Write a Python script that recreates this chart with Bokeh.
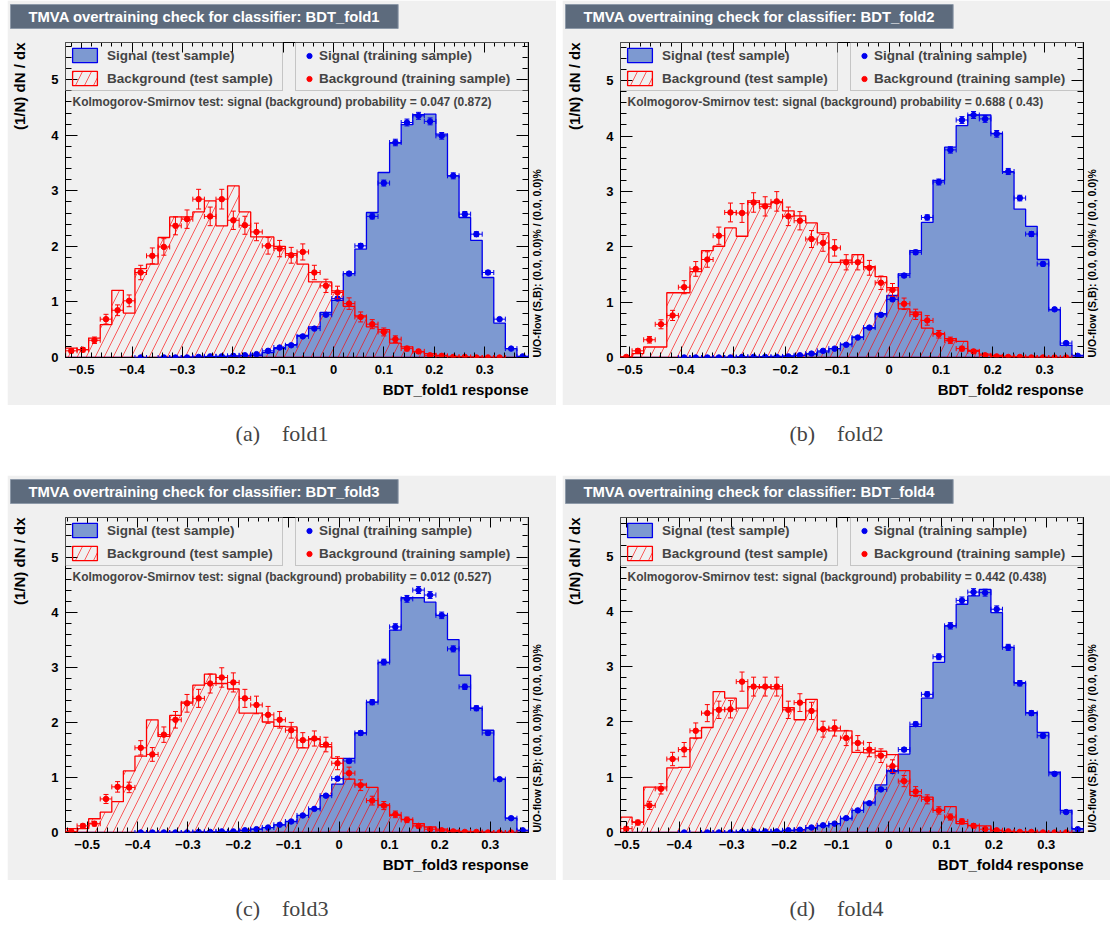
import numpy as np
from bokeh.core.properties import value
from bokeh.embed import file_html
from bokeh.layouts import column, row
from bokeh.models import (ColumnDataSource, CustomJSTickFormatter, FixedTicker, Label, Legend,
                          LegendItem, LinearAxis, Range1d, SingleIntervalTicker, Spacer, TeeHead,
                          Title, Whisker)
from bokeh.plotting import figure
from bokeh.resources import INLINE

NAN = float("nan")

# ---------------------------------------------------------------- data
folds = ["fold1", "fold2", "fold3", "fold4"]
captions = ["(a)\u2003fold1", "(b)\u2003fold2", "(c)\u2003fold3", "(d)\u2003fold4"]

# classifier response range of each fold (40 equal bins over it)
x_low = [-0.532, -0.518, -0.543, -0.512]
x_high = [0.387, 0.375, 0.376, 0.371]
y_top = [5.67, 5.69, 5.73, 5.70]

ks_signal = ["0.047", "0.688", "0.012", "0.442"]
ks_background = ["0.872", " 0.43", "0.527", "0.438"]

sig_test_1 = [0, 0, 0, 0, 0, 0, 0, 0.003, 0.005, 0.008, 0.01, 0.012, 0.015, 0.02, 0.025, 0.03,
              0.04, 0.09, 0.16, 0.23, 0.40, 0.55, 0.81, 1.03, 1.51, 1.95, 2.61, 3.33, 3.86, 4.19,
              4.37, 4.38, 4.02, 3.27, 2.52, 2.11, 1.44, 0.62, 0.16, 0.02]
sig_train_1 = [NAN, NAN, NAN, NAN, NAN, NAN, 0, NAN, 0, 0, 0, 0.01, 0.02, 0.02, 0.03, 0.04,
               0.06, 0.12, 0.18, 0.22, 0.38, 0.52, 0.77, 1.06, 1.51, 2.01, 2.54, 3.14, 3.87, 4.23,
               4.35, 4.25, 3.99, 3.27, 2.58, 2.22, 1.53, 0.69, 0.16, 0.02]
bkg_test_1 = [0.17, 0.14, 0.35, 0.59, 1.21, 0.80, 1.60, 1.68, 2.16, 2.53, 2.53, 2.62, 2.82, 2.37,
              3.09, 2.62, 2.17, 2.17, 2.00, 1.87, 1.68, 1.36, 1.36, 1.20, 0.92, 0.75, 0.55, 0.50,
              0.26, 0.19, 0.10, 0.07, 0.04, 0.02, 0.01, 0.01, 0.005, 0, 0, 0]
bkg_train_1 = [0.12, 0.14, 0.31, 0.69, 0.85, 1.02, 1.53, 1.83, 1.99, 2.37, 2.49, 2.85, 2.54, 2.85,
               2.47, 2.38, 2.26, 2.01, 1.96, 1.84, 1.90, 1.53, 1.29, 1.17, 0.97, 0.73, 0.60, 0.46,
               0.33, 0.16, 0.11, 0.04, 0.03, 0.01, 0.01, 0, 0, 0, NAN, NAN]

sig_test_2 = [0, 0, 0, 0, 0, 0, 0.003, 0.005, 0.005, 0.008, 0.01, 0.012, 0.015, 0.02, 0.03, 0.04,
              0.06, 0.10, 0.16, 0.24, 0.37, 0.53, 0.79, 1.12, 1.51, 1.93, 2.44, 3.20, 3.80, 4.19,
              4.38, 4.38, 4.05, 3.35, 2.68, 2.37, 1.77, 0.86, 0.22, 0.04]
sig_train_2 = [NAN, NAN, NAN, NAN, NAN, 0, 0, 0, 0, 0, 0.01, 0.01, 0.01, 0.01, 0.02, 0.04,
               0.07, 0.12, 0.16, 0.23, 0.36, 0.54, 0.77, 1.05, 1.48, 1.90, 2.53, 3.17, 3.75, 4.29,
               4.38, 4.31, 4.04, 3.36, 2.88, 2.23, 1.69, 0.87, 0.26, 0.03]
bkg_test_2 = [0.01, 0.07, 0.19, 0.19, 1.17, 1.17, 1.55, 1.93, 2.01, 2.34, 2.19, 2.83, 2.77, 2.80,
              2.65, 2.56, 2.43, 2.25, 1.72, 1.76, 1.86, 1.64, 1.46, 1.26, 0.88, 0.82, 0.53, 0.43,
              0.34, 0.29, 0.13, 0.06, 0.04, 0.02, 0.01, 0.01, 0.005, 0, 0, 0]
bkg_train_2 = [0.01, 0.12, 0.32, 0.60, 0.76, 1.27, 1.60, 1.77, 2.20, 2.62, 2.61, 2.80, 2.73, 2.82,
               2.55, 2.47, 2.14, 2.07, 1.98, 1.72, 1.72, 1.62, 1.35, 1.22, 0.97, 0.78, 0.67, 0.42,
               0.31, 0.16, 0.11, 0.04, 0.02, 0.01, 0.01, 0, 0, 0, 0, NAN]

sig_test_3 = [0, 0, 0, 0, 0, 0, 0, 0.003, 0.005, 0.005, 0.008, 0.01, 0.012, 0.015, 0.02, 0.04,
              0.06, 0.09, 0.14, 0.20, 0.31, 0.43, 0.67, 0.88, 1.35, 1.81, 2.37, 3.09, 3.68, 4.27,
              4.27, 4.19, 3.95, 3.51, 2.86, 2.26, 1.86, 0.97, 0.26, 0.04]
sig_train_3 = [NAN, NAN, NAN, NAN, NAN, NAN, 0, 0, 0, 0, 0, 0.01, 0.01, 0.02, 0.02, 0.04,
               0.06, 0.09, 0.14, 0.20, 0.31, 0.43, 0.67, 0.98, 1.30, 1.81, 2.37, 3.10, 3.74, 4.25,
               4.41, 4.32, 3.95, 3.34, 2.65, 2.26, 1.81, 0.97, 0.26, 0.04]
bkg_test_3 = [0.07, 0.07, 0.25, 0.37, 0.56, 1.12, 1.39, 2.05, 1.75, 2.13, 2.37, 2.68, 2.88, 2.71,
              2.61, 2.17, 2.17, 2.01, 1.93, 1.92, 1.54, 1.69, 1.56, 1.35, 0.97, 0.88, 0.82, 0.50,
              0.31, 0.24, 0.16, 0.10, 0.06, 0.04, 0.02, 0.01, 0.01, 0, 0, 0]
bkg_train_3 = [0.02, 0.12, 0.16, 0.61, 0.83, 0.82, 1.54, 1.42, 1.78, 2.05, 2.35, 2.44, 2.71, 2.82,
               2.73, 2.44, 2.32, 2.14, 2.05, 1.86, 1.68, 1.71, 1.60, 1.26, 1.08, 0.86, 0.58, 0.49,
               0.33, 0.23, 0.12, 0.06, 0.04, 0.02, 0.01, 0.01, 0, 0, 0, NAN]

sig_test_4 = [0, 0, 0, 0, 0, 0, 0, 0.003, 0.005, 0.008, 0.01, 0.012, 0.015, 0.02, 0.04, 0.05,
              0.08, 0.12, 0.16, 0.25, 0.40, 0.55, 0.86, 1.12, 1.42, 1.92, 2.43, 3.08, 3.74, 4.13,
              4.28, 4.40, 3.98, 3.35, 2.71, 2.17, 1.81, 1.09, 0.40, 0.07]
sig_train_4 = [NAN, NAN, NAN, NAN, NAN, 0, NAN, 0, 0, 0, 0.01, 0.02, 0.02, 0.02, 0.04, 0.05,
               0.09, 0.13, 0.16, 0.26, 0.40, 0.53, 0.78, 1.11, 1.50, 1.96, 2.50, 3.18, 3.74, 4.20,
               4.35, 4.34, 4.04, 3.35, 2.70, 2.16, 1.75, 1.06, 0.37, 0.06]
bkg_test_4 = [0.28, 0.19, 0.82, 0.82, 1.17, 1.18, 1.71, 1.90, 2.55, 2.43, 2.25, 2.64, 2.62, 2.60,
              2.26, 2.04, 2.41, 1.86, 1.84, 1.84, 1.45, 1.44, 1.47, 1.41, 1.12, 0.67, 0.64, 0.40,
              0.47, 0.16, 0.13, 0.12, 0.04, 0.02, 0.01, 0.01, 0.005, 0, 0, 0]
bkg_train_4 = [0.07, 0.18, 0.49, 0.79, 1.33, 1.50, 1.84, 2.16, 2.22, 2.23, 2.73, 2.64, 2.64, 2.64,
               2.22, 2.35, 2.20, 1.87, 1.89, 1.71, 1.62, 1.50, 1.39, 1.20, 0.93, 0.74, 0.60, 0.40,
               0.28, 0.20, 0.12, 0.06, 0.04, 0.02, 0.01, 0.01, 0, 0, 0, NAN]

sig_test = [sig_test_1, sig_test_2, sig_test_3, sig_test_4]
sig_train = [sig_train_1, sig_train_2, sig_train_3, sig_train_4]
bkg_test = [bkg_test_1, bkg_test_2, bkg_test_3, bkg_test_4]
bkg_train = [bkg_train_1, bkg_train_2, bkg_train_3, bkg_train_4]

# statistical error per unit sqrt(density) of the training samples
sig_err_scale = 0.03
bkg_err_scale = 0.105

# ---------------------------------------------------------------- style
CANVAS = "#f0f0f0"
FONT = "Liberation Sans"
SIG_FILL = "#7d99d1"
SIG_LINE = "#0000ee"
BKG = "#ff0000"
TITLE_FILL = "#5d6b7d"
TITLE_BORDER = "#8d99a8"
LEG_BORDER = "#9a9a9a"

PANEL_H = 405
FRAME_L, FRAME_T, FRAME_W, FRAME_B = 58, 42, 463, 48
FRAME_H = PANEL_H - FRAME_T - FRAME_B

x_label_fmt = CustomJSTickFormatter(code="""
if (Math.abs(tick) < 1e-9) { return "0"; }
return tick.toFixed(1).replace("-", "\u2212");
""")
blank_fmt = CustomJSTickFormatter(code="return '';")


def style_axis(ax, major, minor, labels=True):
    ax.axis_line_color = "black"
    ax.major_tick_line_color = "black"
    ax.minor_tick_line_color = "black"
    ax.major_tick_in, ax.major_tick_out = major, 0
    ax.minor_tick_in, ax.minor_tick_out = minor, 0
    if labels:
        ax.major_label_text_font = FONT
        ax.major_label_text_font_style = "bold"
        ax.major_label_text_font_size = "13px"
        ax.major_label_text_color = "black"
    else:
        ax.formatter = blank_fmt
        ax.major_label_text_font_size = "0px"
        ax.major_label_standoff = 0


def gap_axis(size):
    """An invisible axis whose blank label only reserves about `size` pixels in a side panel."""
    return LinearAxis(ticker=FixedTicker(ticks=[]), formatter=blank_fmt,
                      axis_line_color=None, major_tick_line_color=None,
                      minor_tick_line_color=None, major_tick_in=0, major_tick_out=0,
                      minor_tick_in=0, minor_tick_out=0,
                      major_label_text_font_size="0px", major_label_standoff=0,
                      axis_label="\u00a0", axis_label_text_font_size="1px",
                      axis_label_text_alpha=0, axis_label_standoff=size - 1)


def bold_text(obj, size, color="black", prefix="text"):
    setattr(obj, f"{prefix}_font", FONT)
    setattr(obj, f"{prefix}_font_style", "bold")
    setattr(obj, f"{prefix}_font_size", size)
    setattr(obj, f"{prefix}_color", color)


def make_panel(k, width):
    s_test = np.array(sig_test[k], float)
    b_test = np.array(bkg_test[k], float)
    edges = np.linspace(x_low[k], x_high[k], len(s_test) + 1)
    centers = 0.5 * (edges[:-1] + edges[1:])

    p = figure(width=width, height=PANEL_H,
               x_range=Range1d(x_low[k], x_high[k]), y_range=Range1d(0, y_top[k]),
               title=f"TMVA overtraining check for classifier: BDT_{folds[k]}",
               output_backend="svg", toolbar_location=None,
               min_border_left=FRAME_L, min_border_right=width - FRAME_L - FRAME_W,
               min_border_top=FRAME_T, min_border_bottom=FRAME_B,
               background_fill_color=CANVAS, border_fill_color=CANVAS,
               outline_line_color="black", outline_line_width=1)
    p.grid.visible = False

    # title box in the upper margin
    t = p.title
    bold_text(t, "14.8px", "white")
    t.background_fill_color = TITLE_FILL
    t.border_line_color = TITLE_BORDER
    t.align = "left"
    t.offset = -55
    t.standoff = 2
    if "padding" in t.properties():
        t.padding = dict(left=18, right=18, top=4, bottom=4)

    # axes: labelled bottom/left, tick-only top/right
    xb = p.xaxis[0]
    xb.ticker = SingleIntervalTicker(interval=0.1, num_minor_ticks=5)
    xb.formatter = x_label_fmt
    xb.major_label_standoff = 7
    style_axis(xb, 11, 5)

    yl = p.yaxis[0]
    yl.ticker = SingleIntervalTicker(interval=1, num_minor_ticks=5)
    yl.major_label_standoff = 7
    style_axis(yl, 12, 6)

    xt = LinearAxis(ticker=SingleIntervalTicker(interval=0.1, num_minor_ticks=5))
    style_axis(xt, 10, 4, labels=False)
    p.add_layout(xt, "above")
    p.add_layout(gap_axis(10), "above")      # lifts the title box off the frame

    yr = LinearAxis(ticker=SingleIntervalTicker(interval=1, num_minor_ticks=5))
    style_axis(yr, 12, 6, labels=False)
    yr.axis_label = "U/O-flow (S,B): (0.0, 0.0)% / (0.0, 0.0)%"
    bold_text(yr, "10.5px", prefix="axis_label_text")
    yr.axis_label_standoff = 8
    yr.axis_label_orientation = np.pi / 2
    if "axis_label_align" in yr.properties():
        yr.axis_label_align = "start"
    p.add_layout(yr, "right")

    # y title at the top end of the y axis
    p.add_layout(gap_axis(17), "left")
    y_title = Title(text="(1/N) dN / dx", align="right", vertical_align="bottom", standoff=2)
    bold_text(y_title, "15px")
    p.add_layout(y_title, "left")

    # x title, right-aligned under the frame
    x_title = Title(text=f"BDT_{folds[k]} response", align="right", vertical_align="top", standoff=8)
    bold_text(x_title, "15px")
    p.add_layout(x_title, "below")

    # test-sample histograms drawn as step outlines
    xs = np.repeat(edges, 2)
    r_sig = p.patch(xs, np.concatenate([[0.0], np.repeat(s_test, 2), [0.0]]),
                    fill_color=SIG_FILL, line_color=SIG_LINE, line_width=1.3)
    r_bkg = p.patch(xs, np.concatenate([[0.0], np.repeat(b_test, 2), [0.0]]),
                    fill_alpha=0, hatch_pattern="/", hatch_color=BKG, hatch_alpha=0.7,
                    hatch_scale=18, hatch_weight=0.9, line_color=BKG, line_width=1.3)

    # training-sample points with error bars
    def training(vals, scale, color):
        v = np.array(vals, float)
        keep = ~np.isnan(v)
        vk = v[keep]
        err = scale * np.sqrt(vk)
        src = ColumnDataSource(dict(x=centers[keep], y=vk, ylo=vk - err, yhi=vk + err,
                                    xl=edges[:-1][keep], xr=edges[1:][keep]))
        for dim, base, lo, hi in (("height", "x", "ylo", "yhi"), ("width", "y", "xl", "xr")):
            p.add_layout(Whisker(source=src, base=base, lower=lo, upper=hi, dimension=dim,
                                 line_color=color, line_width=1, level="annotation",
                                 lower_head=TeeHead(size=5, line_color=color, line_width=1),
                                 upper_head=TeeHead(size=5, line_color=color, line_width=1)))
        return p.scatter("x", "y", source=src, size=5.5, color=color)

    r_sig_tr = training(sig_train[k], sig_err_scale, SIG_LINE)
    r_bkg_tr = training(bkg_train[k], bkg_err_scale, BKG)

    legend_style = dict(padding=3, spacing=5, margin=0, label_height=18,
                        label_text_font=FONT, label_text_font_style="bold",
                        label_text_font_size="13.5px", border_line_color=LEG_BORDER,
                        border_line_width=1, background_fill_alpha=0)
    p.add_layout(Legend(items=[LegendItem(label=value("Signal (test sample)"), renderers=[r_sig]),
                               LegendItem(label=value("Background (test sample)"), renderers=[r_bkg])],
                        location="top_left", glyph_width=31, glyph_height=18,
                        label_width=172, label_standoff=7, **legend_style))
    p.add_layout(Legend(items=[LegendItem(label=value("Signal (training sample)"), renderers=[r_sig_tr]),
                               LegendItem(label=value("Background (training sample)"), renderers=[r_bkg_tr])],
                        location="top_right", glyph_width=20, glyph_height=13,
                        label_width=205, label_standoff=0, **legend_style))

    p.add_layout(Label(x=7, y=FRAME_H - 59, x_units="screen", y_units="screen",
                       text=f"Kolmogorov-Smirnov test: signal (background) probability = "
                            f"{ks_signal[k]} ({ks_background[k]})",
                       text_font=FONT, text_font_style="bold", text_font_size="12px",
                       text_align="left", text_baseline="middle"))
    return p


def caption_strip(height, y, texts):
    c = figure(width=1110, height=height, x_range=Range1d(0, 1110), y_range=Range1d(0, height),
               x_axis_type=None, y_axis_type=None, output_backend="svg", toolbar_location=None,
               min_border=0, outline_line_color=None)
    c.grid.visible = False
    for txt, xc in texts:
        c.add_layout(Label(x=xc, y=y, text=txt, text_align="center", text_baseline="middle",
                           text_font="Liberation Serif", text_font_size="22px"))
    return c


page = column(
    row(Spacer(width=7, height=PANEL_H), make_panel(0, 549), Spacer(width=6, height=PANEL_H), make_panel(1, 548)),
    caption_strip(70, 42, [(captions[0], 281.5), (captions[1], 836)]),
    row(Spacer(width=7, height=PANEL_H), make_panel(2, 549), Spacer(width=6, height=PANEL_H), make_panel(3, 548)),
    caption_strip(46, 18, [(captions[2], 281.5), (captions[3], 836)]),
)

open("out.html", "w").write(file_html(page, INLINE))
